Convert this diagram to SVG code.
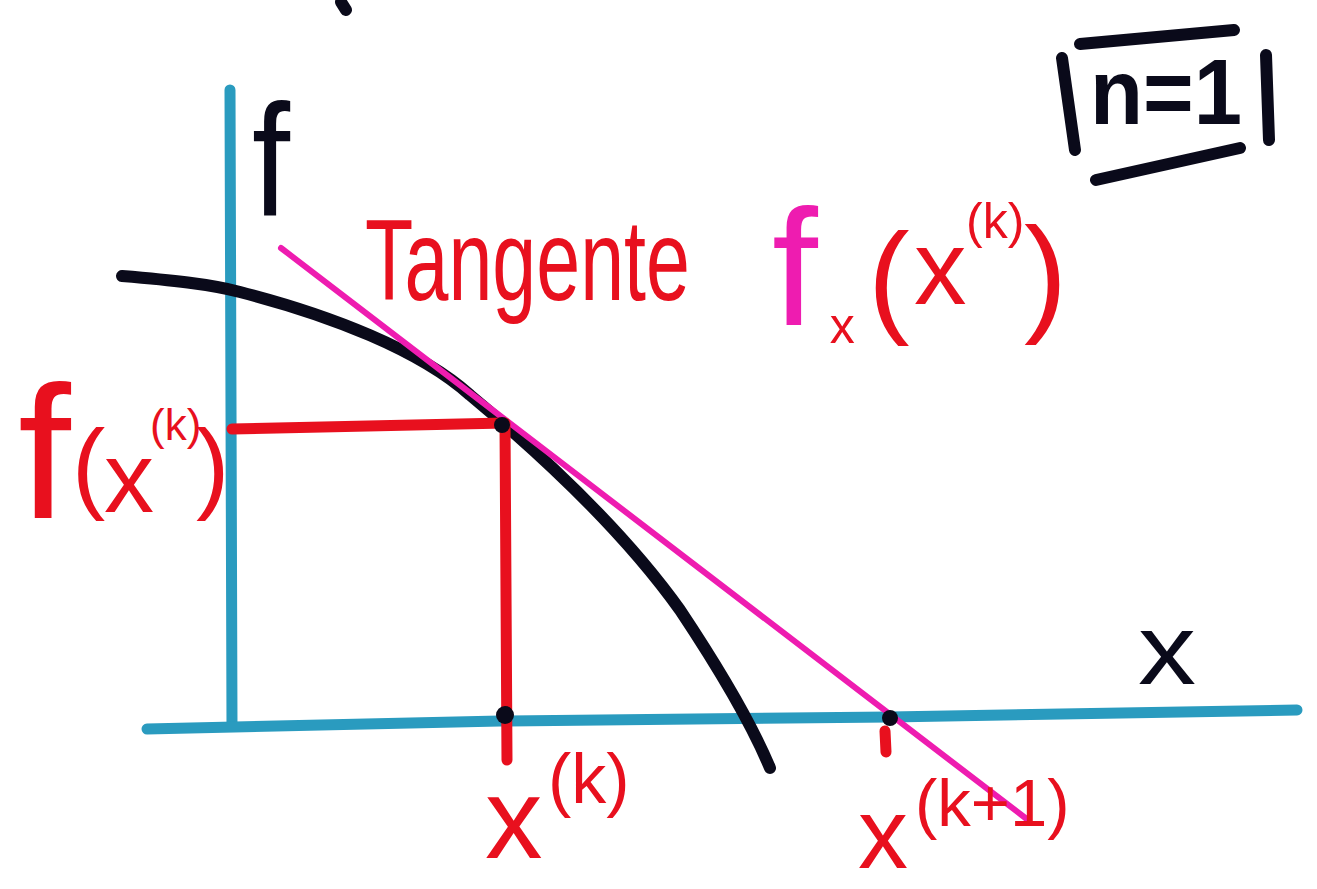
<svg xmlns="http://www.w3.org/2000/svg" width="1317" height="889" viewBox="0 0 1317 889">
<style>
.s{fill:none;stroke-linecap:round;stroke-linejoin:round}
.blue{stroke:#2a9bbf;stroke-width:11}
.blk{stroke:#0a0a1a;stroke-width:12}
.red{stroke:#e8101e;stroke-width:11}
.mag{stroke:#ee1cb0;stroke-width:6}
.t{font-family:"Liberation Sans",Arial,sans-serif}
.tr{fill:#e8101e}
.tk{fill:#0a0a1a}
</style>
<rect width="1317" height="889" fill="#ffffff"/>
<g id="connectors">
<path class="s blk" d="M341,2 L346,10"/>
<path id="y-axis" class="s blue" d="M230,90 L232,725"/>
<path id="x-axis" class="s blue" d="M147,729 L500,721 L890,717 L1297,710"/>
<path id="curve" class="s blk" d="M122,276 C170,280 210,284 240,292 C330,315 420,350 470,395 C560,470 630,540 680,610 C720,670 750,720 770,768"/>
<path id="tangent" class="s mag" d="M281,248 L1028,820"/>
<path id="fx-guide" class="s red" d="M232,429 L505,423 L507,760"/>
<path class="s red" d="M885,731 L886,752"/>
</g>
<g id="points">
<circle cx="505" cy="715" r="9" fill="#0a0a1a"/>
<circle cx="890" cy="718" r="8" fill="#0a0a1a"/>
<circle cx="502" cy="425" r="8" fill="#0a0a1a"/>
</g>
<g id="axis-labels">
<text class="t tk" x="252" y="216" font-size="160" textLength="38" lengthAdjust="spacingAndGlyphs">f</text>
<text class="t tk" x="1138" y="684" font-size="100" textLength="58" lengthAdjust="spacingAndGlyphs">x</text>
</g>
<g id="label-fxk">
<text class="t tr"><tspan x="18" y="518" font-size="190">f</tspan><tspan x="72" y="500" font-size="100">(</tspan><tspan x="104" y="512" font-size="100">x</tspan><tspan x="150" y="440" font-size="44">(k)</tspan><tspan x="196" y="500" font-size="100">)</tspan></text>
</g>
<g id="label-tangente">
<text class="t tr" x="365" y="300" font-size="115" textLength="325" lengthAdjust="spacingAndGlyphs">Tangente</text>
<text class="t tr" x="772" y="325"><tspan font-size="165" fill="#ee1cb0">f</tspan><tspan dx="12" dy="18" font-size="50">x</tspan><tspan x="868" y="320" font-size="125">(</tspan><tspan x="914" y="304" font-size="105">x</tspan><tspan x="966" y="238" font-size="50">(k)</tspan><tspan x="1024" y="318" font-size="130">)</tspan></text>
</g>
<g id="label-xk">
<text class="t tr"><tspan x="485" y="858" font-size="115">x</tspan><tspan x="548" y="803" font-size="70">(k)</tspan></text>
</g>
<g id="label-xk1">
<text class="t tr"><tspan x="858" y="868" font-size="100">x</tspan><tspan x="915" y="826" font-size="67">(k+1)</tspan></text>
</g>
<g id="n-box">
<path class="s blk" d="M1080,44 L1234,30 M1096,180 L1240,148 M1062,58 L1075,150 M1266,55 L1269,140"/>
<text class="t tk" x="1090" y="124" font-size="92" font-weight="bold" textLength="152" lengthAdjust="spacingAndGlyphs">n=1</text>
</g>
</svg>
